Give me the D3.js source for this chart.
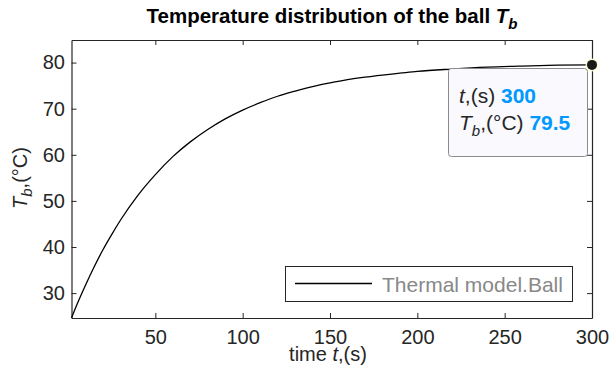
<!DOCTYPE html>
<html>
<head>
<meta charset="utf-8">
<script src="https://cdn.jsdelivr.net/npm/d3@7"></script>
<style>
  body { margin: 0; background: #fff; }
  svg { font-family: "Liberation Sans", Arial, sans-serif; }
</style>
</head>
<body>
<svg id="chart" width="610" height="380"></svg>
<script>
// time (s) and ball temperature (°C)
const times = [2, 5, 10, 15, 20, 25, 30, 40, 50, 60, 70, 80, 90, 100, 110, 120, 130, 140, 150,
  160, 170, 180, 190, 200, 220, 240, 260, 280, 300];
const temps = [24.6, 27.4, 31.7, 35.7, 39.4, 42.7, 45.8, 51.2, 55.7, 59.6, 62.8, 65.5, 67.8, 69.7,
  71.3, 72.7, 73.8, 74.8, 75.6, 76.3, 76.85, 77.3, 77.7, 78.1, 78.6, 79.0, 79.25, 79.44, 79.5];
const xTicks = [50, 100, 150, 200, 250, 300];
const yTicks = [30, 40, 50, 60, 70, 80];
const tipPoint = { t: 300, T: 79.5 };

const svg = d3.select('#chart');
const margin = { left: 71.5, right: 18, top: 40, bottom: 62 };
const W = 610, H = 380;
const axisColor = '#262626';
const fs = 20;

const x = d3.scaleLinear().domain([2, 300]).range([margin.left, W - margin.right]);
const y = d3.scaleLinear().domain([24.6, 84.9]).range([H - margin.bottom, margin.top]);

const plot = svg.append('g');

// frame with inward ticks on all sides
const xAxis = d3.axisBottom(x).tickValues(xTicks).tickSizeInner(-5).tickSizeOuter(0).tickPadding(11.5);
const yAxis = d3.axisLeft(y).tickValues(yTicks).tickSizeInner(-5).tickSizeOuter(0).tickPadding(6.5);

const gx = plot.append('g').attr('transform', `translate(0,${y.range()[0]})`).call(xAxis);
const gy = plot.append('g').attr('transform', `translate(${x.range()[0]},0)`).call(yAxis);
const gxTop = plot.append('g').attr('transform', `translate(0,${y.range()[1]})`)
  .call(d3.axisTop(x).tickValues(xTicks).tickSizeInner(-5).tickSizeOuter(0).tickFormat(''));
const gyRight = plot.append('g').attr('transform', `translate(${x.range()[1]},0)`)
  .call(d3.axisRight(y).tickValues(yTicks).tickSizeInner(-5).tickSizeOuter(0).tickFormat(''));

[gx, gy, gxTop, gyRight].forEach(g => {
  g.select('.domain').attr('stroke', axisColor).attr('stroke-width', 1.2);
  g.selectAll('.tick line').attr('stroke', axisColor).attr('stroke-width', 1);
  g.selectAll('.tick text').attr('fill', axisColor).style('font-size', fs + 'px')
    .style('font-family', '"Liberation Sans", Arial, sans-serif');
});

// curve
const line = d3.line().x((d, i) => x(times[i])).y(d => y(d)).curve(d3.curveMonotoneX);
plot.append('path')
  .datum(temps)
  .attr('d', line)
  .attr('fill', 'none')
  .attr('stroke', '#000')
  .attr('stroke-width', 1.3);

// title
const title = svg.append('text')
  .attr('x', 332).attr('y', 23)
  .attr('text-anchor', 'middle')
  .attr('font-weight', 'bold')
  .attr('font-size', 20.5)
  .attr('fill', '#000');
title.append('tspan').text('Temperature distribution of the ball ');
title.append('tspan').attr('font-style', 'italic').text('T');
title.append('tspan').attr('font-style', 'italic').attr('font-size', 15).attr('dy', 6).text('b');

// x label
const xl = svg.append('text')
  .attr('x', 328).attr('y', 361)
  .attr('text-anchor', 'middle')
  .attr('font-size', fs)
  .attr('fill', axisColor);
xl.append('tspan').text('time ');
xl.append('tspan').attr('font-style', 'italic').text('t');
xl.append('tspan').text(',(s)');

// y label
const yl = svg.append('text')
  .attr('transform', 'translate(27,178) rotate(-90)')
  .attr('text-anchor', 'middle')
  .attr('font-size', fs)
  .attr('fill', axisColor);
yl.append('tspan').attr('font-style', 'italic').text('T');
yl.append('tspan').attr('font-style', 'italic').attr('font-size', 15).attr('dy', 5).text('b');
yl.append('tspan').attr('dy', -5).text(',(°C)');

// legend
const leg = svg.append('g');
leg.append('rect')
  .attr('x', 285.5).attr('y', 266.5).attr('width', 287).attr('height', 35)
  .attr('fill', '#fff').attr('stroke', axisColor).attr('stroke-width', 1);
leg.append('line')
  .attr('x1', 295).attr('x2', 372).attr('y1', 283.5).attr('y2', 283.5)
  .attr('stroke', '#000').attr('stroke-width', 1.3);
leg.append('text')
  .attr('x', 382).attr('y', 292)
  .attr('font-size', 21)
  .attr('fill', '#888')
  .text('Thermal model.Ball');

// datatip
const tip = svg.append('g');
tip.append('rect')
  .attr('x', 448.5).attr('y', 68.5).attr('width', 139).attr('height', 88)
  .attr('rx', 3)
  .attr('fill', '#f9f9fe').attr('stroke', '#8a8a8a').attr('stroke-width', 1);
const l1 = tip.append('text').attr('x', 459).attr('y', 103).attr('font-size', 21).attr('fill', axisColor);
l1.append('tspan').attr('font-style', 'italic').text('t');
l1.append('tspan').text(',(s) ');
l1.append('tspan').attr('font-weight', 'bold').attr('fill', '#0099ff').text(tipPoint.t);
const l2 = tip.append('text').attr('x', 459).attr('y', 130).attr('font-size', 21).attr('fill', axisColor);
l2.append('tspan').attr('font-style', 'italic').text('T');
l2.append('tspan').attr('font-style', 'italic').attr('font-size', 15).attr('dy', 6).text('b');
l2.append('tspan').attr('dy', -6).text(',(°C) ');
l2.append('tspan').attr('font-weight', 'bold').attr('fill', '#0099ff').text(tipPoint.T);

tip.append('circle')
  .attr('cx', x(tipPoint.t)).attr('cy', y(tipPoint.T)).attr('r', 6.5)
  .attr('fill', '#ffffd0').attr('opacity', 0.9);
tip.append('circle')
  .attr('cx', x(tipPoint.t)).attr('cy', y(tipPoint.T)).attr('r', 5)
  .attr('fill', '#1a1a1a');
</script>
</body>
</html>
